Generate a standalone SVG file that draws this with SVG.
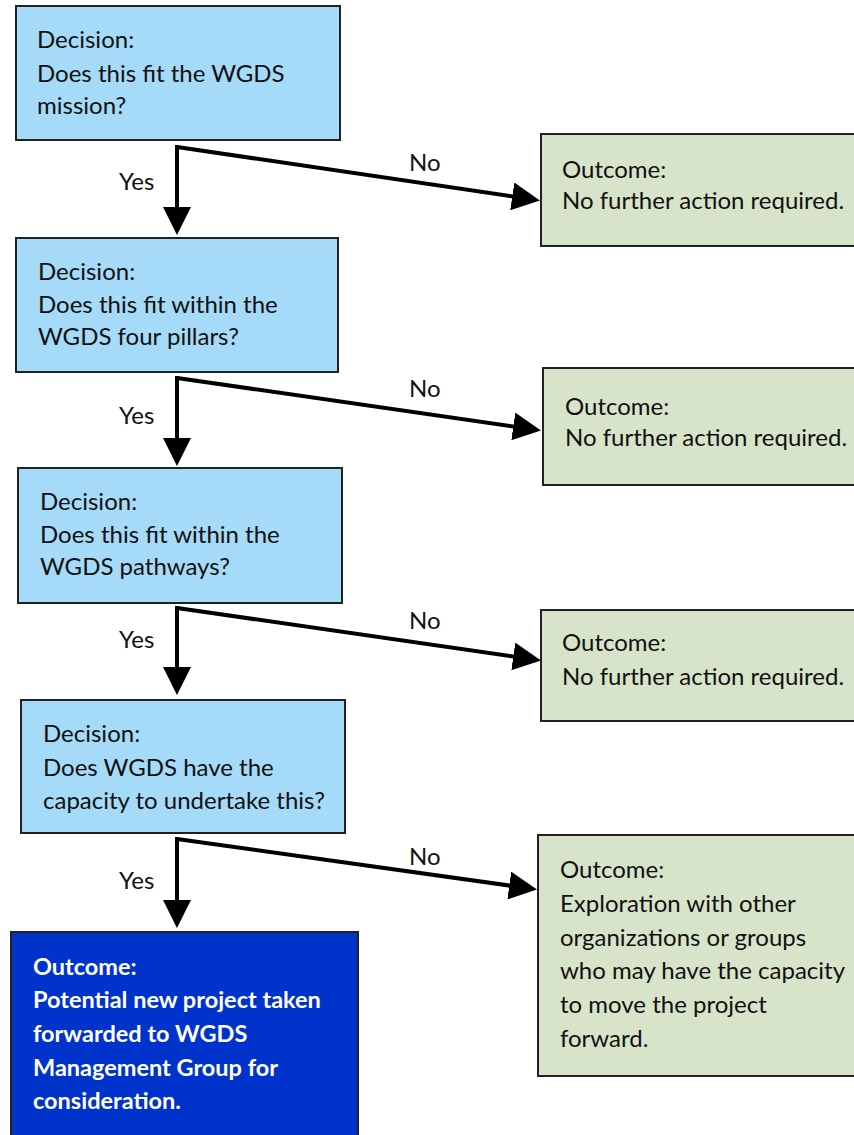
<svg xmlns="http://www.w3.org/2000/svg" width="854" height="1135" viewBox="0 0 854 1135">
<style>
.dec{fill:#a5dbf8;stroke:#222;stroke-width:2}
.out{fill:#d8e4c9;stroke:#222;stroke-width:2}
.fin{fill:#0033cc;stroke:#222;stroke-width:2}
.t{font-family:Lato,"Liberation Sans",sans-serif;font-size:24px;fill:#111}
.tw{font-family:Lato,"Liberation Sans",sans-serif;font-size:23.5px;fill:#fff;font-weight:bold}
.c{fill:none;stroke:#000;stroke-width:4}
</style>
<defs>
<marker id="ah" viewBox="0 0 10 10" refX="6.4" refY="5" markerWidth="7" markerHeight="7" markerUnits="strokeWidth" orient="auto">
<path d="M0,0 L10,5 L0,10 z" fill="#000"/>
</marker>
</defs>
<rect width="854" height="1135" fill="#fff"/>
<g id="connectors">
<path class="c" d="M177,145 V225" marker-end="url(#ah)"/>
<path class="c" d="M177,147 L530,199" marker-end="url(#ah)"/>
<path class="c" d="M177,376 V456" marker-end="url(#ah)"/>
<path class="c" d="M177,378 L531,429" marker-end="url(#ah)"/>
<path class="c" d="M177,606 V685" marker-end="url(#ah)"/>
<path class="c" d="M177,608 L531,659" marker-end="url(#ah)"/>
<path class="c" d="M177,837 V918" marker-end="url(#ah)"/>
<path class="c" d="M177,839 L527,888" marker-end="url(#ah)"/>
<text class="t" x="119" y="190">Yes</text>
<text class="t" x="409" y="171">No</text>
<text class="t" x="119" y="424">Yes</text>
<text class="t" x="409" y="397">No</text>
<text class="t" x="119" y="648">Yes</text>
<text class="t" x="409" y="629">No</text>
<text class="t" x="119" y="889">Yes</text>
<text class="t" x="409" y="865">No</text>
</g>
<g id="d1">
<rect class="dec" x="16" y="6" width="324" height="134"/>
<text class="t" x="37" y="48">Decision:</text>
<text class="t" x="37" y="82">Does this fit the WGDS</text>
<text class="t" x="37" y="114">mission?</text>
</g>
<g id="o1">
<rect class="out" x="541" y="134" width="320" height="112"/>
<text class="t" x="562" y="178">Outcome:</text>
<text class="t" x="562" y="209">No further action required.</text>
</g>
<g id="d2">
<rect class="dec" x="16" y="238" width="322" height="134"/>
<text class="t" x="38" y="280">Decision:</text>
<text class="t" x="38" y="313">Does this fit within the</text>
<text class="t" x="38" y="345">WGDS four pillars?</text>
</g>
<g id="o2">
<rect class="out" x="543" y="368" width="320" height="117"/>
<text class="t" x="565" y="415">Outcome:</text>
<text class="t" x="565" y="446">No further action required.</text>
</g>
<g id="d3">
<rect class="dec" x="18" y="468" width="324" height="135"/>
<text class="t" x="40" y="510">Decision:</text>
<text class="t" x="40" y="543">Does this fit within the</text>
<text class="t" x="40" y="575">WGDS pathways?</text>
</g>
<g id="o3">
<rect class="out" x="541" y="610" width="320" height="111"/>
<text class="t" x="562" y="651">Outcome:</text>
<text class="t" x="562" y="685">No further action required.</text>
</g>
<g id="d4">
<rect class="dec" x="21" y="700" width="324" height="133"/>
<text class="t" x="43" y="742">Decision:</text>
<text class="t" x="43" y="776">Does WGDS have the</text>
<text class="t" x="43" y="809">capacity to undertake this?</text>
</g>
<g id="o4">
<rect class="out" x="538" y="835" width="320" height="241"/>
<text class="t" x="560" y="878">Outcome:</text>
<text class="t" x="560" y="912">Exploration with other</text>
<text class="t" x="560" y="946">organizations or groups</text>
<text class="t" x="560" y="979">who may have the capacity</text>
<text class="t" x="560" y="1013">to move the project</text>
<text class="t" x="560" y="1047">forward.</text>
</g>
<g id="final">
<rect class="fin" x="11" y="932" width="347" height="210"/>
<text class="tw" x="33" y="975">Outcome:</text>
<text class="tw" x="33" y="1008">Potential new project taken</text>
<text class="tw" x="33" y="1042">forwarded to WGDS</text>
<text class="tw" x="33" y="1076">Management Group for</text>
<text class="tw" x="33" y="1109">consideration.</text>
</g>
</svg>
